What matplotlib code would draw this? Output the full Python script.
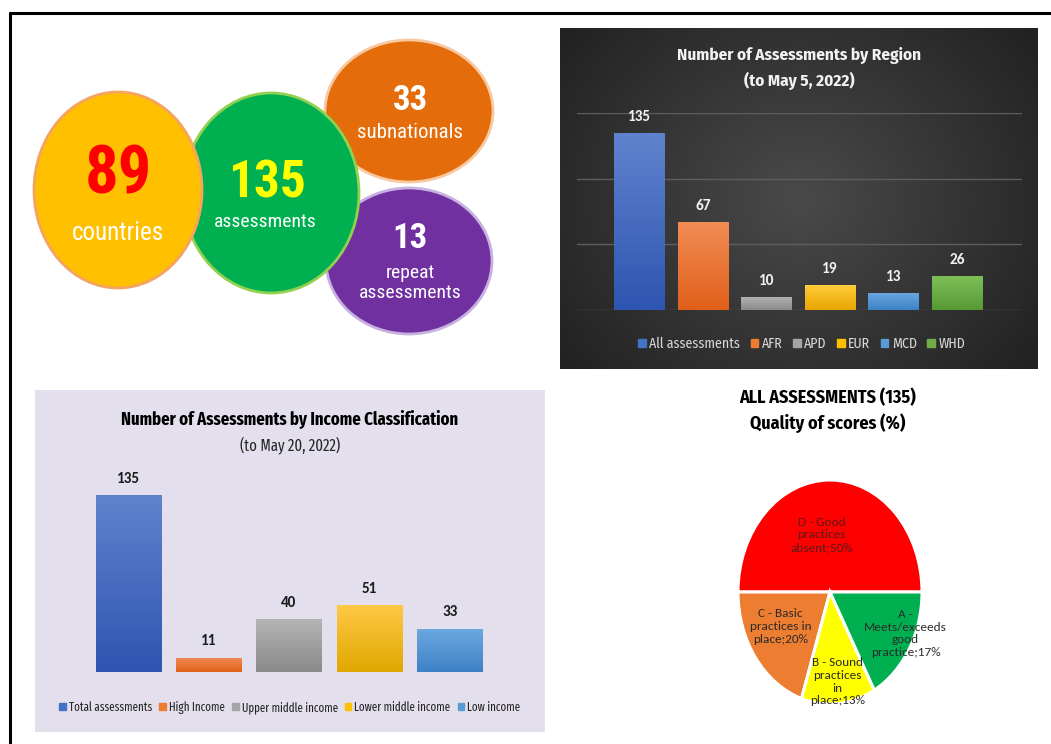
import numpy as np
import matplotlib.pyplot as plt
from matplotlib.patches import Ellipse
from matplotlib.colors import LinearSegmentedColormap, to_rgb

# summary bubbles
bubble_numbers = ["89", "135", "33", "13"]
bubble_words = ["countries", "assessments", "subnationals", "repeat\nassessments"]

# assessments by WHO region
region_names = ["All assessments", "AFR", "APD", "EUR", "MCD", "WHD"]
region_counts = [135, 67, 10, 19, 13, 26]

# assessments by income group
income_names = ["Total assessments", "High Income", "Upper middle income",
                "Lower middle income", "Low income"]
income_counts = [135, 11, 40, 51, 33]

# quality of scores (%)
quality_labels = ["D - Good\npractices\nabsent;50%", "C - Basic\npractices in\nplace;20%",
                  "B - Sound\npractices\nin\nplace;13%", "A -\nMeets/exceeds\ngood\npractice;17%"]
quality_pct = [50, 20, 13, 17]

W, H = 1051, 744
CAL = ['Carlito', 'Lato', 'DejaVu Sans']
NAR = ['Fira Sans Condensed', 'Carlito', 'DejaVu Sans']
XNAR = ['Fira Sans Extra Condensed', 'Fira Sans Condensed', 'DejaVu Sans']
ARN = ['Roboto Condensed', 'Liberation Sans', 'DejaVu Sans']

fig = plt.figure(figsize=(W / 100, H / 100), dpi=100)
fig.patch.set_facecolor('white')


def px_axes(left, top, width, height, **kw):
    return fig.add_axes([left / W, 1 - (top + height) / H, width / W, height / H], **kw)


def gradient_bars(ax, bars, shades):
    for bar, (bottom, top) in zip(bars, shades):
        x0, y0 = bar.get_x(), bar.get_y()
        x1, y1 = x0 + bar.get_width(), y0 + bar.get_height()
        cmap = LinearSegmentedColormap.from_list('g', [bottom, top])
        grad = np.linspace(0, 1, 64).reshape(-1, 1)
        im = ax.imshow(grad, extent=[x0, x1, y0, y1], origin='lower', aspect='auto',
                       cmap=cmap, zorder=bar.get_zorder() + 0.1)
        im.set_clip_path(bar)


# ---- overlay for bubbles and frame ----
ov = px_axes(0, 0, W, H)
ov.set_xlim(0, W)
ov.set_ylim(H, 0)
ov.axis('off')

ov.plot([9, W], [13, 13], color='black', lw=2.2, solid_capstyle='butt')
ov.plot([10, 10], [12, H], color='black', lw=2.2, solid_capstyle='butt')

bubbles = [
    # (cx, cy, w, h, face, edge, z)
    (409, 111, 168, 142, '#E46C0A', '#F8C8A0', 2),
    (409, 261, 166, 146, '#7030A0', '#C8B0E0', 3),
    (271, 193, 176, 200, '#00B050', '#92D050', 4),
    (118, 190, 168, 196, '#FFC000', '#F4A460', 5),
]
for cx, cy, bw, bh, fc, ec, z in bubbles:
    ov.add_patch(Ellipse((cx, cy), bw, bh, facecolor=fc, edgecolor=ec, lw=2, zorder=z))

ov.text(118, 176, bubble_numbers[0], color='#FF0000', fontsize=48, fontweight='bold',
        ha='center', va='center', family=ARN, zorder=10)
ov.text(118, 233, bubble_words[0], color='white', fontsize=18,
        ha='center', va='center', family=ARN, zorder=10)
ov.text(267, 184, bubble_numbers[1], color='#FFFF00', fontsize=37, fontweight='bold',
        ha='center', va='center', family=ARN, zorder=10)
ov.text(265, 222, bubble_words[1], color='white', fontsize=14,
        ha='center', va='center', family=ARN, zorder=10)
ov.text(410, 101, bubble_numbers[2], color='white', fontsize=25, fontweight='bold',
        ha='center', va='center', family=ARN, zorder=10)
ov.text(410, 133, bubble_words[2], color='white', fontsize=15,
        ha='center', va='center', family=ARN, zorder=10)
ov.text(410, 239, bubble_numbers[3], color='white', fontsize=25, fontweight='bold',
        ha='center', va='center', family=ARN, zorder=10)
ov.text(410, 283, bubble_words[3], color='white', fontsize=14, linespacing=1.15,
        ha='center', va='center', family=ARN, zorder=10)

# ---- region chart (dark panel) ----
bg = px_axes(560, 28, 478, 341)
yy, xx = np.mgrid[-1:1:200j, -1:1:300j]
rad = np.sqrt(xx ** 2 + (yy * 0.8) ** 2)
c_in, c_out = np.array(to_rgb('#4a4a4a')), np.array(to_rgb('#222222'))
t = np.clip(rad / 1.25, 0, 1)[..., None]
bg.imshow(c_in * (1 - t) + c_out * t, aspect='auto', extent=[0, 1, 0, 1])
bg.set_xlim(0, 1)
bg.set_ylim(0, 1)
bg.axis('off')
bg.text(0.5, 1 - 28 / 341, "Number of Assessments by Region", color='#F2F2F2',
        fontsize=12.3, fontweight='bold', ha='center', va='center', family=NAR,
        transform=bg.transAxes)
bg.text(0.5, 1 - 53 / 341, "(to May 5, 2022)", color='#F2F2F2',
        fontsize=12.3, fontweight='bold', ha='center', va='center', family=NAR,
        transform=bg.transAxes)

ax1 = px_axes(577, 113, 445, 197)
ax1.set_facecolor('none')
region_colors = ['#4472C4', '#ED7D31', '#A5A5A5', '#FFC000', '#5B9BD5', '#70AD47']
region_shades = [('#2E55B0', '#6083CE'), ('#E0601A', '#F28C55'), ('#8A8A8A', '#B4B4B4'),
                 ('#E8A500', '#FFCC3A'), ('#3D82C6', '#6CA8E0'), ('#579A33', '#7EBF58')]
xr = np.arange(len(region_names))
bars1 = ax1.bar(xr, region_counts, width=0.8, color=region_colors, zorder=2)
gradient_bars(ax1, bars1, region_shades)
for b, v in zip(bars1, region_counts):
    ax1.text(b.get_x() + b.get_width() / 2, v + 7, str(v), color='#F2F2F2', fontsize=11,
             fontweight='bold', ha='center', va='bottom', family=CAL)
ax1.set_xlim(-0.99, 6.02)
ax1.set_ylim(0, 150)
for g in [0, 50, 100, 150]:
    ax1.axhline(g, color='#5e5e5e', lw=1, zorder=1)
ax1.axis('off')
handles = [plt.Rectangle((0, 0), 1, 1, color=c) for c in region_colors]
ax1.legend(handles, region_names, loc='center', bbox_to_anchor=(0.505, -0.17), ncol=6,
           frameon=False, handlelength=0.55, handleheight=0.55, handletextpad=0.25,
           columnspacing=0.75, labelcolor='#D9D9D9', prop={'family': NAR, 'size': 10})

# ---- income chart (lavender panel) ----
bg2 = px_axes(35, 390, 510, 342)
bg2.set_facecolor('#E4DFEC')
bg2.set_xticks([])
bg2.set_yticks([])
for s in bg2.spines.values():
    s.set_visible(False)
bg2.text(0.5, 1 - 29 / 342, "Number of Assessments by Income Classification", color='black',
         fontsize=13, fontweight='bold', ha='center', va='center', family=XNAR,
         transform=bg2.transAxes)
bg2.text(0.5, 1 - 55 / 342, "(to May 20, 2022)", color='#262626', fontsize=11.5,
         ha='center', va='center', family=XNAR, transform=bg2.transAxes)

ax2 = px_axes(48, 475, 482, 197)
ax2.set_facecolor('none')
income_colors = ['#4472C4', '#ED7D31', '#A5A5A5', '#FFC000', '#5B9BD5']
income_shades = [('#2E55B0', '#6083CE'), ('#E0601A', '#F28C55'), ('#8A8A8A', '#B4B4B4'),
                 ('#E0A800', '#FFC845'), ('#3D82C6', '#6CA8E0')]
xi = np.arange(len(income_names))
bars2 = ax2.bar(xi, income_counts, width=0.81, color=income_colors, zorder=2)
gradient_bars(ax2, bars2, income_shades)
for b, v in zip(bars2, income_counts):
    ax2.text(b.get_x() + b.get_width() / 2, v + 7, str(v), color='#1a1a1a', fontsize=11,
             fontweight='bold', ha='center', va='bottom', family=CAL)
ax2.set_xlim(-1, 5)
ax2.set_ylim(0, 150)
ax2.axis('off')
handles = [plt.Rectangle((0, 0), 1, 1, color=c) for c in income_colors]
ax2.legend(handles, income_names, loc='center', bbox_to_anchor=(0.502, -0.18), ncol=5,
           frameon=False, handlelength=0.55, handleheight=0.55, handletextpad=0.25,
           columnspacing=0.6, labelcolor='#262626', prop={'family': XNAR, 'size': 8.6})

# ---- quality pie ----
fig.text(828 / W, 1 - 398 / H, "ALL ASSESSMENTS (135)", fontsize=13, fontweight='bold',
         ha='center', va='center', family=NAR)
fig.text(828 / W, 1 - 423 / H, "Quality of scores (%)", fontsize=13, fontweight='bold',
         ha='center', va='center', family=NAR)

ax3 = px_axes(738, 480, 184, 224)
wedges, _ = ax3.pie(quality_pct, startangle=0, counterclock=True,
                    colors=['#FF0000', '#ED7D31', '#FFFF00', '#00B050'],
                    wedgeprops={'edgecolor': 'white', 'linewidth': 2.2})
ax3.set_aspect('auto')
ax3.set_xlim(-1, 1)
ax3.set_ylim(-1, 1)
label_pos = [(-0.09, 0.51), (-0.54, -0.31), (0.08, -0.80), (0.82, -0.37)]
label_col = ['#5a1a1a', '#2b2b2b', '#2b2b2b', '#2b2b2b']
for (lx, ly), txt, col in zip(label_pos, quality_labels, label_col):
    ax3.text(lx, ly, txt, ha='center', va='center', fontsize=9.5, color=col,
             linespacing=1.2, family=CAL)

fig.savefig('out.png', dpi=100)
